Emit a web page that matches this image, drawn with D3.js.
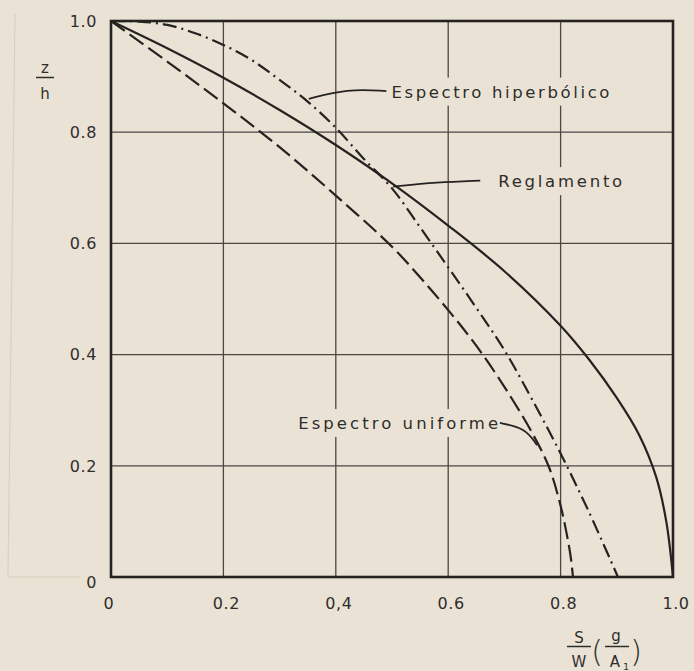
<!DOCTYPE html>
<html><head><meta charset="utf-8">
<script src="https://cdn.jsdelivr.net/npm/d3@7"></script>
<style>
html,body{margin:0;padding:0;background:#eae3d5;}
svg{display:block;}
text{font-family:"DejaVu Sans","Liberation Sans",sans-serif;fill:#2f2d2b;}
</style></head>
<body>
<svg id="chart" width="694" height="671"></svg>
<script>
// ---- data ----
const xTicks = [0, 0.2, 0.4, 0.6, 0.8, 1.0];
const yTicks = [0, 0.2, 0.4, 0.6, 0.8, 1.0];
const xTickLabels = ["0", "0.2", "0,4", "0.6", "0.8", "1.0"];
const yTickLabels = ["0", "0.2", "0.4", "0.6", "0.8", "1.0"];

const reglamentoX = [0, 0.1, 0.2, 0.3, 0.4, 0.5, 0.6, 0.7, 0.8, 0.85, 0.9, 0.94, 0.97, 0.988, 1.0];
const reglamentoY = [1, 0.951, 0.898, 0.84, 0.777, 0.708, 0.632, 0.55, 0.452, 0.392, 0.322, 0.255, 0.18, 0.1, 0];

const hiperbolicoX = [0, 0.05, 0.1, 0.15, 0.2, 0.25, 0.3, 0.35, 0.4, 0.45, 0.5, 0.55, 0.6, 0.65, 0.7, 0.75, 0.8, 0.85, 0.902];
const hiperbolicoY = [1, 0.999, 0.993, 0.978, 0.957, 0.930, 0.894, 0.855, 0.808, 0.752, 0.699, 0.629, 0.557, 0.484, 0.408, 0.318, 0.222, 0.118, 0];

const uniformeX = [0, 0.1, 0.2, 0.3, 0.4, 0.5, 0.55, 0.6, 0.65, 0.7, 0.75, 0.78, 0.8, 0.81, 0.818, 0.822];
const uniformeY = [1, 0.927, 0.852, 0.773, 0.686, 0.594, 0.539, 0.48, 0.416, 0.342, 0.258, 0.196, 0.128, 0.082, 0.036, 0];

const labels = ["Espectro hiperbólico", "Reglamento", "Espectro uniforme"];
const labelX = [0.499, 0.689, 0.333];
const labelY = [0.873, 0.712, 0.277];
const labelLen = [218, 124, 200];
const leaderX = [[0.49, 0.42, 0.352], [0.657, 0.58, 0.502], [0.692, 0.737, 0.758]];
const leaderY = [[0.874, 0.878, 0.860], [0.713, 0.71, 0.702], [0.277, 0.268, 0.237]];

// ---- layout ----
const svg = d3.select("#chart");
const x = d3.scaleLinear().domain([0, 1]).range([111, 673]);
const y = d3.scaleLinear().domain([0, 1]).range([577, 21]);
const ink = "#252321";
const bg = "#eae3d5";

// faint print-through frame
svg.append("path")
  .attr("d", "M15,14 L8,577 L80,577")
  .attr("fill", "none").attr("stroke", "#d8d1c2").attr("stroke-width", 1.2);

// grid
const g = svg.append("g");
g.selectAll(".vg").data(xTicks.slice(1, -1)).join("line")
  .attr("x1", d => x(d)).attr("x2", d => x(d)).attr("y1", y(0)).attr("y2", y(1))
  .attr("stroke", "#4a4744").attr("stroke-width", 1.3);
g.selectAll(".hg").data(yTicks.slice(1, -1)).join("line")
  .attr("y1", d => y(d)).attr("y2", d => y(d)).attr("x1", x(0)).attr("x2", x(1))
  .attr("stroke", "#4a4744").attr("stroke-width", 1.3);

// label backgrounds (break grid lines)
labels.forEach((t, i) => {
  svg.append("rect")
    .attr("x", x(labelX[i]) - 4).attr("y", y(labelY[i]) - 14)
    .attr("width", labelLen[i] + 8).attr("height", 28)
    .attr("fill", bg);
});

// curves
const line = d3.line().x(d => x(d[0])).y(d => y(d[1])).curve(d3.curveCatmullRom.alpha(0.5));
const series = [
  {xs: reglamentoX, ys: reglamentoY, dash: null},
  {xs: hiperbolicoX, ys: hiperbolicoY, dash: "14,5,2,5"},
  {xs: uniformeX, ys: uniformeY, dash: "17,6"}
];
series.forEach(s => {
  svg.append("path")
    .attr("d", line(d3.zip(s.xs, s.ys)))
    .attr("fill", "none").attr("stroke", ink).attr("stroke-width", 2.2)
    .attr("stroke-dasharray", s.dash);
});

// frame
svg.append("rect").attr("x", x(0)).attr("y", y(1))
  .attr("width", x(1) - x(0)).attr("height", y(0) - y(1))
  .attr("fill", "none").attr("stroke", ink).attr("stroke-width", 2.6);

// labels + leaders
const leader = d3.line().x(d => x(d[0])).y(d => y(d[1])).curve(d3.curveBasis);
labels.forEach((t, i) => {
  svg.append("text").attr("x", x(labelX[i])).attr("y", y(labelY[i]))
    .attr("dy", "0.36em").attr("font-size", 16.5)
    .attr("textLength", labelLen[i]).attr("lengthAdjust", "spacing")
    .text(t);
  svg.append("path").attr("d", leader(d3.zip(leaderX[i], leaderY[i])))
    .attr("fill", "none").attr("stroke", ink).attr("stroke-width", 1.8);
});

// y tick labels
svg.selectAll(".yt").data(yTicks).join("text")
  .attr("x", 97)
  .attr("y", d => d === 0 ? y(d) + 5 : y(d))
  .attr("dy", "0.36em").attr("text-anchor", "end").attr("font-size", 16)
  .attr("letter-spacing", 0.6)
  .text((d, i) => yTickLabels[i]);

// x tick labels
svg.selectAll(".xt").data(xTicks).join("text")
  .attr("x", (d, i) => d === 0 ? x(d) - 2 : x(d) + 3)
  .attr("y", 609).attr("text-anchor", "middle").attr("font-size", 16)
  .attr("letter-spacing", 0.6)
  .text((d, i) => xTickLabels[i]);

// y axis title z/h
svg.append("text").attr("x", 45).attr("y", 73).attr("text-anchor", "middle").attr("font-size", 15).text("z");
svg.append("line").attr("x1", 36).attr("x2", 54).attr("y1", 77.5).attr("y2", 77.5).attr("stroke", "#2f2d2b").attr("stroke-width", 1.5);
svg.append("text").attr("x", 45).attr("y", 99).attr("text-anchor", "middle").attr("font-size", 15).text("h");

// x axis title S/W (g/A1)
svg.append("text").attr("x", 579).attr("y", 643).attr("text-anchor", "middle").attr("font-size", 15).text("S");
svg.append("line").attr("x1", 567).attr("x2", 591).attr("y1", 646.5).attr("y2", 646.5).attr("stroke", "#2f2d2b").attr("stroke-width", 1.5);
svg.append("text").attr("x", 579).attr("y", 667).attr("text-anchor", "middle").attr("font-size", 15).text("W");
svg.append("text").attr("x", 597).attr("y", 662).attr("text-anchor", "middle").attr("font-size", 30).attr("font-weight", 300).text("(");
svg.append("text").attr("x", 616).attr("y", 641).attr("text-anchor", "middle").attr("font-size", 15).text("g");
svg.append("line").attr("x1", 605).attr("x2", 629).attr("y1", 646.5).attr("y2", 646.5).attr("stroke", "#2f2d2b").attr("stroke-width", 1.5);
svg.append("text").attr("x", 615).attr("y", 667).attr("text-anchor", "middle").attr("font-size", 15).text("A");
svg.append("text").attr("x", 626).attr("y", 670).attr("text-anchor", "middle").attr("font-size", 9).text("1");
svg.append("text").attr("x", 636).attr("y", 662).attr("text-anchor", "middle").attr("font-size", 30).attr("font-weight", 300).text(")");
</script>
</body></html>
